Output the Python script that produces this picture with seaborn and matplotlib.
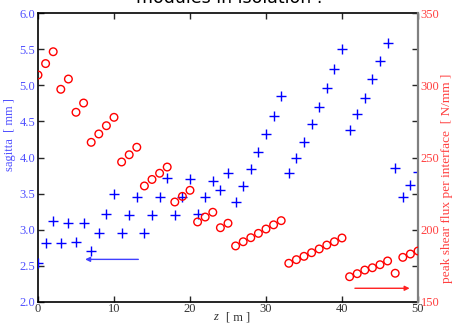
import numpy as np
import pandas as pd
import matplotlib
matplotlib.use("Agg")
import matplotlib.pyplot as plt
import seaborn as sns

z = list(range(51))
sagitta = [2.54, 2.82, 3.12, 2.82, 3.10, 2.83, 3.10, 2.70, 2.95, 3.22,
           3.50, 2.96, 3.20, 3.46, 2.96, 3.20, 3.45, 3.71, 3.21, 3.45,
           3.70, 3.22, 3.45, 3.68, 3.55, 3.78, 3.39, 3.61, 3.84, 4.07,
           4.32, 4.58, 4.85, 3.78, 4.00, 4.22, 4.46, 4.70, 4.96, 5.23,
           5.50, 4.38, 4.60, 4.83, 5.08, 5.33, 5.59, 3.85, 3.46, 3.62,
           3.80]
shear = [307.1, 315.0, 323.2, 297.2, 304.3, 281.3, 287.7, 260.5, 266.3, 272.0,
         277.8, 246.9, 251.9, 257.1, 230.3, 234.8, 239.1, 243.4, 219.2, 223.1,
         227.3, 205.4, 208.8, 212.1, 201.4, 204.5, 188.8, 191.7, 194.5, 197.5,
         200.5, 203.4, 206.3, 176.8, 179.3, 181.6, 184.1, 186.7, 189.4, 191.7,
         194.3, 167.5, 169.6, 172.1, 173.7, 175.8, 178.4, 169.9, 180.9, 183.2,
         185.3]

# arrows: (start z, end z, level)
blue_arrow = [13.2, 6.2, 2.59]
red_arrow = [41.7, 48.9, 159.5]

left_ticks = [2.0, 2.5, 3.0, 3.5, 4.0, 4.5, 5.0, 5.5, 6.0]
right_ticks = [150, 200, 250, 300, 350]
x_ticks = [0, 10, 20, 30, 40, 50]

title = "modules in isolation :"
ylabel_left = "sagitta  [ mm ]"
ylabel_right = "peak shear flux per interface  [ N/mm ]"

df = pd.DataFrame({"z": z, "sagitta": sagitta, "shear": shear})

sns.set_style("white")
plt.rcParams["font.family"] = ["DejaVu Sans"]
serif = "Liberation Serif"

fig = plt.figure(figsize=(4.54, 3.23), dpi=100)
ax = fig.add_axes([38/454, 1-302/323, 380/454, 289/323])
ax2 = ax.twinx()

sns.scatterplot(data=df, x="z", y="sagitta", ax=ax, marker="+", color="#0000ff",
                s=45, linewidth=1.0, legend=False, zorder=3)
sns.scatterplot(data=df, x="z", y="shear", ax=ax2, marker="o", s=30,
                legend=False, zorder=3)
for c in ax2.collections:
    c.set_facecolor("none")
    c.set_edgecolor("#ff0000")
    c.set_linewidth(1.0)

ax.annotate("", xy=(blue_arrow[1], blue_arrow[2]), xytext=(blue_arrow[0], blue_arrow[2]),
            arrowprops=dict(arrowstyle="-|>", color="#4040ff", lw=1.0,
                            mutation_scale=7, shrinkA=0, shrinkB=0))
ax2.annotate("", xy=(red_arrow[1], red_arrow[2]), xytext=(red_arrow[0], red_arrow[2]),
             arrowprops=dict(arrowstyle="-|>", color="#ff2020", lw=1.0,
                             mutation_scale=7, shrinkA=0, shrinkB=0))

ax.set_xlim(0, 50)
ax.set_ylim(2.0, 6.0)
ax2.set_ylim(150, 350)

ax.set_xticks(x_ticks)
ax.set_xticklabels([str(t) for t in x_ticks], fontfamily=serif, fontsize=9, color="#333333")
ax.set_yticks(left_ticks)
ax.set_yticklabels([f"{t:.1f}" for t in left_ticks], fontfamily=serif, fontsize=9, color="#5050ff")
ax2.set_yticks(right_ticks)
ax2.set_yticks([175, 225, 275, 325], minor=True)
ax2.set_yticklabels([str(t) for t in right_ticks], fontfamily=serif, fontsize=9, color="#ff4040")

ax.tick_params(axis="both", direction="in", length=4, width=1, pad=2, top=True,
               bottom=True, left=True, right=False)
ax2.tick_params(axis="y", which="both", direction="in", length=4, width=1, pad=2,
                right=True, left=False)
ax.tick_params(axis="x", pad=1)

for s in ["left", "bottom", "top"]:
    ax.spines[s].set_color("black")
    ax.spines[s].set_linewidth(1.2)
for s in ["left", "bottom", "top"]:
    ax2.spines[s].set_visible(False)
ax2.spines["right"].set_color("#808080")
ax2.spines["right"].set_linewidth(1.6)
ax.spines["right"].set_visible(False)

ax.set_xlabel("")
ax.set_ylabel("")
ax2.set_ylabel("")
fig.text(10/454, 1-135/323, ylabel_left, rotation=90, ha="center", va="center",
         fontfamily=serif, fontsize=9, color="#5050ff")
fig.text(447/454, 1-178/323, ylabel_right, rotation=90, ha="center", va="center",
         fontfamily=serif, fontsize=9.6, color="#ff4040")
fig.text(213/454, 1-317/323, "z", ha="left", va="center", fontfamily=serif,
         fontstyle="italic", fontsize=9, color="#333333")
fig.text(226/454, 1-317/323, "[ m ]", ha="left", va="center", fontfamily=serif,
         fontsize=9, color="#333333")
fig.text(229/454, 1-3/323, title, ha="center", va="baseline", fontsize=12.5, color="black")

fig.savefig("out.png", dpi=100)
